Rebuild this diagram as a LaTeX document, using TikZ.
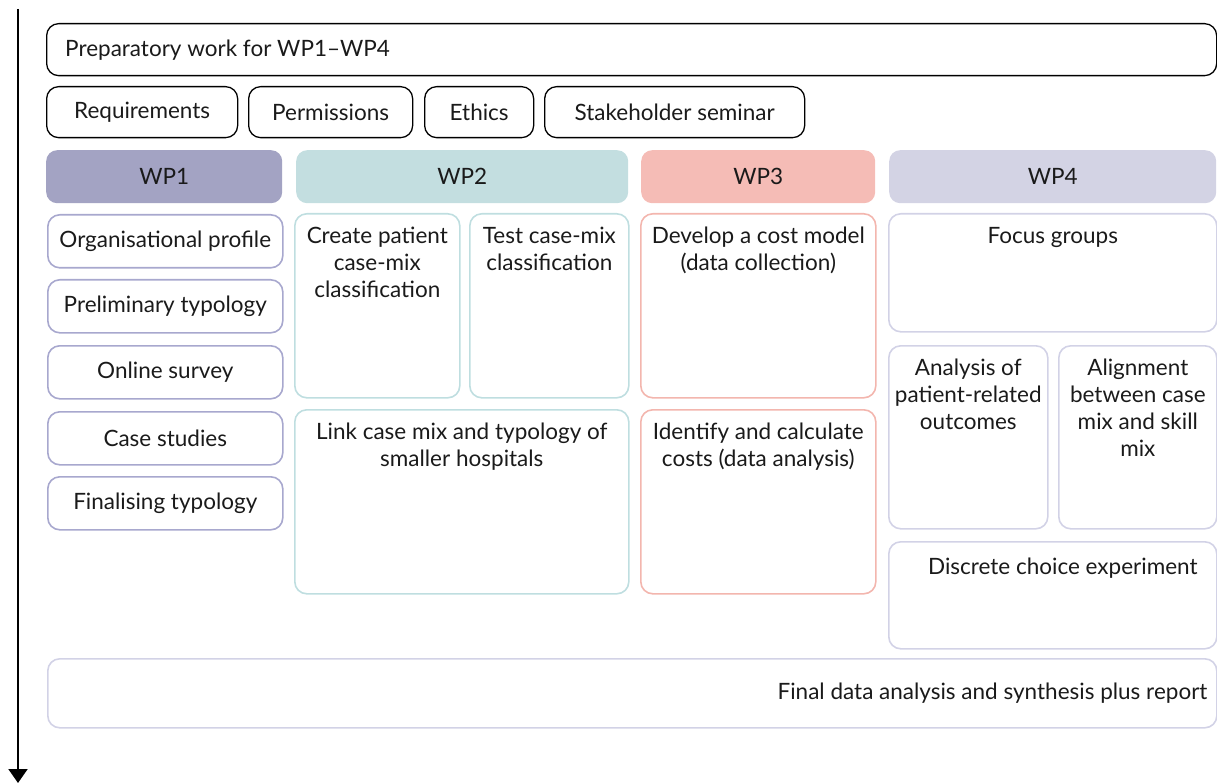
\documentclass[tikz,border=0pt]{standalone}
\usepackage{fontspec}
\setmainfont{Lato}
\usetikzlibrary{arrows.meta}

\definecolor{inkc}{HTML}{1A1A1A}
\definecolor{wpafill}{HTML}{A3A3C3}
\definecolor{wpbfill}{HTML}{C3DEE0}
\definecolor{wpcfill}{HTML}{F5BCB6}
\definecolor{wpdfill}{HTML}{D3D3E4}
\definecolor{wpaline}{HTML}{A8A8CE}
\definecolor{wpbline}{HTML}{BFDEE0}
\definecolor{wpcline}{HTML}{F3B6AE}
\definecolor{wpdline}{HTML}{D2D2E6}

\tikzset{
  frame/.style={anchor=north west, rectangle, rounded corners=12pt, inner sep=0pt,
    text=inkc, font=\fontsize{22.5}{27}\selectfont, align=center},
  blackbox/.style={frame, draw=black, line width=1.3pt},
  headbox/.style={frame, draw=none, rounded corners=11pt},
  boxa/.style={frame, draw=wpaline, line width=1.6pt},
  boxb/.style={frame, draw=wpbline, line width=1.6pt},
  boxc/.style={frame, draw=wpcline, line width=1.6pt},
  boxd/.style={frame, draw=wpdline, line width=1.6pt},
  label/.style={inner sep=0pt, text=inkc, font=\fontsize{22.5}{27}\selectfont, align=center},
  toplabel/.style={label, anchor=north},
}

\begin{document}
\begin{tikzpicture}[x=1pt, y=-1pt]
\useasboundingbox (0,0) rectangle (1217,783);

% time axis
\coordinate (axtop) at (18,9);
\coordinate (axbot) at (18,783);
\draw[line width=2pt, -{Triangle[width=19pt,length=14pt]}] (axtop) -- (axbot);

% preparatory work
\node[blackbox, minimum width=1170pt, minimum height=52pt] (prep) at (46,23) {};
\node[label, anchor=west] (prept) at ([xshift=19pt]prep.west) {Preparatory work for WP1–WP4};

\node[blackbox, minimum width=191pt, minimum height=51pt] (req) at (46,86) {Requirements};
\node[blackbox, minimum width=164pt, minimum height=51pt] (perm) at (248,86) {Permissions};
\node[blackbox, minimum width=109pt, minimum height=51pt] (eth) at (424,86) {Ethics};
\node[blackbox, minimum width=260pt, minimum height=51pt] (stake) at (544,86) {Stakeholder seminar};

% work package headers
\node[headbox, fill=wpafill, minimum width=236pt, minimum height=53pt] (wpa) at (46,150) {WP1};
\node[headbox, fill=wpbfill, minimum width=332pt, minimum height=53pt] (wpb) at (296,150) {WP2};
\node[headbox, fill=wpcfill, minimum width=234pt, minimum height=53pt] (wpc) at (641,150) {WP3};
\node[headbox, fill=wpdfill, minimum width=327pt, minimum height=53pt] (wpd) at (889,150) {WP4};

% WP1 tasks
\node[boxa, minimum width=235pt, minimum height=53pt] (a1) at (47,214) {Organisational profile};
\node[boxa, minimum width=235pt, minimum height=53pt] (a2) at (47,279) {Preliminary typology};
\node[boxa, minimum width=235pt, minimum height=53pt] (a3) at (47,345) {Online survey};
\node[boxa, minimum width=235pt, minimum height=53pt] (a4) at (47,411) {Case studies};
\node[boxa, minimum width=235pt, minimum height=53pt] (a5) at (47,476) {Finalising typology};

% WP2 tasks
\node[boxb, minimum width=165pt, minimum height=184pt] (b1) at (294,213) {};
\node[toplabel] (b1t) at ([yshift=-14pt]b1.north) {Create patient\\case-mix\\classification};
\node[boxb, minimum width=159pt, minimum height=184pt] (b2) at (469,213) {};
\node[toplabel] (b2t) at ([yshift=-14pt]b2.north) {Test case-mix\\classification};
\node[boxb, minimum width=334pt, minimum height=184pt] (b3) at (294,409) {};
\node[toplabel] (b3t) at ([yshift=-14pt]b3.north) {Link case mix and typology of\\smaller hospitals};

% WP3 tasks
\node[boxc, minimum width=235pt, minimum height=184pt] (c1) at (640,213) {};
\node[toplabel] (c1t) at ([yshift=-14pt]c1.north) {Develop a cost model\\(data collection)};
\node[boxc, minimum width=235pt, minimum height=184pt] (c2) at (640,409) {};
\node[toplabel] (c2t) at ([yshift=-14pt]c2.north) {Identify and calculate\\costs (data analysis)};

% WP4 tasks
\node[boxd, minimum width=328pt, minimum height=118pt] (d1) at (888,213) {};
\node[toplabel] (d1t) at ([yshift=-14pt]d1.north) {Focus groups};
\node[boxd, minimum width=159pt, minimum height=183pt] (d2) at (888,345) {};
\node[toplabel] (d2t) at ([yshift=-14pt]d2.north) {Analysis of\\patient-related\\outcomes};
\node[boxd, minimum width=158pt, minimum height=183pt] (d3) at (1058,345) {};
\node[toplabel] (d3t) at ([yshift=-14pt]d3.north) {Alignment\\between case\\mix and skill\\mix};
\node[boxd, minimum width=328pt, minimum height=107pt] (d4) at (888,541) {};
\node[toplabel] (d4t) at ([xshift=10pt,yshift=-17pt]d4.north) {Discrete choice experiment};

% synthesis
\node[boxd, minimum width=1169pt, minimum height=69pt] (fin) at (47,658) {};
\node[label, anchor=east] (fint) at ([xshift=-10pt]fin.east) {Final data analysis and synthesis plus report};
\end{tikzpicture}
\end{document}
